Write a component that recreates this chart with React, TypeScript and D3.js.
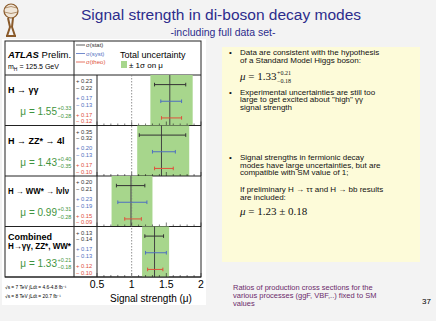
import React from 'react';
import * as d3 from 'd3';

// channel results
const labels1 = ['H → γγ', 'H → ZZ* → 4l', 'H → WW* → lνlν', 'Combined'];
const labels2 = ['', '', '', 'H→γγ, ZZ*, WW*'];
const mu = [1.55, 1.43, 0.99, 1.33];
const totUp = [0.33, 0.40, 0.31, 0.21];
const totDn = [0.28, 0.35, 0.28, 0.18];
const statUp = [0.23, 0.35, 0.20, 0.13];
const statDn = [0.22, 0.32, 0.21, 0.14];
const systUp = [0.17, 0.20, 0.23, 0.17];
const systDn = [0.13, 0.13, 0.19, 0.13];
const theoUp = [0.17, 0.17, 0.15, 0.12];
const theoDn = [0.12, 0.10, 0.09, 0.10];
const xTicks = [0.5, 1, 1.5, 2];

const SANS = '"Liberation Sans", Arial, sans-serif';
const SERIF = '"Liberation Serif", "Times New Roman", serif';
const BLACK = '#333';
const BLUE = '#4f6fc0';
const RED = '#e0503c';
const GREEN_TXT = '#3f9440';
const BAND = '#a7d68c';

const fmt = (v: number) => v.toFixed(2);

export default function App() {
  const x = d3.scaleLinear().domain([0.5, 2]).range([97, 201]);
  const rows = d3.scaleBand<number>().domain(d3.range(mu.length)).range([75, 277]);
  const bh = rows.bandwidth();
  const minor = d3.range(0.5, 2.0001, 0.1);

  const series = [
    { up: statUp, dn: statDn, color: BLACK, f: 0.19 },
    { up: systUp, dn: systDn, color: BLUE, f: 0.52 },
    { up: theoUp, dn: theoDn, color: RED, f: 0.85 },
  ];

  return (
    <svg width={436} height={321} style={{ position: 'absolute', left: 0, top: 0 }}>
      <rect width={436} height={321} fill="#f3f3f3" />
      {/* logo */}
      <g stroke="#8a5a2a" fill="none" strokeWidth={1.2}>
        <circle cx={11} cy={11} r={7} fill="#f0e6d8" />
        <path d="M5,8 Q11,5 17,8 M4,12 Q11,15 18,12" strokeWidth={0.6} />
        <path d="M8,18 L10,27 L7,36 M13,18 L12,27 L15,36 M6,36 L16,36" strokeWidth={2} />
      </g>
      {/* title */}
      <text x={221} y={20} textAnchor="middle" fontFamily={SANS} fontSize={15.5} fill="#2c2c8c">
        Signal strength in di-boson decay modes
      </text>
      <text x={223} y={36} textAnchor="middle" fontFamily={SANS} fontSize={10.5} fill="#2c2c8c">
        -including full data set-
      </text>

      {/* chart area */}
      <rect x={2} y={39} width={204} height={266} fill="#fff" />
      <rect x={5} y={41} width={196} height={236} fill="none" stroke="#222" strokeWidth={1} />
      <line x1={5} x2={201} y1={75} y2={75} stroke="#222" />
      <line x1={74} x2={74} y1={41} y2={277} stroke="#222" />
      <line x1={97} x2={97} y1={75} y2={277} stroke="#222" />

      <text x={8} y={58} fontFamily={SANS} fontSize={9.5} fill="#000">
        <tspan fontWeight="bold" fontStyle="italic">ATLAS</tspan> Prelim.
      </text>
      <text x={8} y={69} fontFamily={SANS} fontSize={7} fill="#000">
        m<tspan fontSize={5} dy={2}>H</tspan><tspan dy={-2}> = 125.5 GeV</tspan>
      </text>
      {['σ(stat)', 'σ(syst)', 'σ(theo)'].map((t, i) => (
        <g key={t}>
          <line x1={76} x2={85} y1={45 + i * 8.5} y2={45 + i * 8.5} stroke={series[i].color} strokeWidth={0.8} />
          <text x={86} y={47 + i * 8.5} fontFamily={SANS} fontSize={6} fill={series[i].color}>{t}</text>
        </g>
      ))}
      <text x={120} y={58} fontFamily={SANS} fontSize={9} fill="#000">Total uncertainty</text>
      <rect x={121} y={61} width={6} height={7} fill={BAND} />
      <text x={129} y={68} fontFamily={SANS} fontSize={8} fill="#000">± 1σ on μ</text>

      {mu.map((m, i) => {
        const top = rows(i)!;
        return (
          <g key={i}>
            <rect x={x(m - totDn[i])} y={top} width={x(m + totUp[i]) - x(m - totDn[i])} height={bh} fill={BAND} />
            <line x1={x(m)} x2={x(m)} y1={top} y2={top + bh} stroke="#444" strokeWidth={1} />
            {series.map((s, j) => {
              const yy = top + bh * s.f;
              const x0 = x(m - s.dn[i]);
              const x1 = x(m + s.up[i]);
              return (
                <g key={j} stroke={s.color} strokeWidth={1}>
                  <line x1={x0} x2={x1} y1={yy} y2={yy} />
                  <line x1={x0} x2={x0} y1={yy - 1.8} y2={yy + 1.8} />
                  <line x1={x1} x2={x1} y1={yy - 1.8} y2={yy + 1.8} />
                  <text x={76} y={yy - 1.3} fontFamily={SANS} fontSize={5.8} fill={s.color} stroke="none">
                    + {fmt(s.up[i])}
                  </text>
                  <text x={76} y={yy + 5.3} fontFamily={SANS} fontSize={5.8} fill={s.color} stroke="none">
                    − {fmt(s.dn[i])}
                  </text>
                </g>
              );
            })}
            {/* row labels */}
            {labels2[i] ? (
              <>
                <text x={8} y={top + 13.5} fontFamily={SANS} fontSize={9} fontWeight="bold">{labels1[i]}</text>
                <text x={8} y={top + 22} fontFamily={SANS} fontSize={8.5} fontWeight="bold" textLength={63} lengthAdjust="spacingAndGlyphs">{labels2[i]}</text>
              </>
            ) : (
              <text x={8} y={top + 18} fontFamily={SANS} fontSize={i === 2 ? 8.3 : 9} fontWeight="bold"
                textLength={i === 2 ? 61 : undefined} lengthAdjust="spacingAndGlyphs">{labels1[i]}</text>
            )}
            <text x={57} y={top + 40} textAnchor="end" fontFamily={SANS} fontSize={10} fill={GREEN_TXT}>
              μ = {fmt(m)}
            </text>
            <text x={57.5} y={top + 35} fontFamily={SANS} fontSize={5.5} fill={GREEN_TXT}>+{fmt(totUp[i])}</text>
            <text x={57.5} y={top + 42.5} fontFamily={SANS} fontSize={5.5} fill={GREEN_TXT}>−{fmt(totDn[i])}</text>
            {/* separator axis with ticks */}
            <line x1={97} x2={201} y1={top + bh} y2={top + bh} stroke="#222" />
            {minor.map((t, k) => (
              <line key={k} x1={x(t)} x2={x(t)} y1={top + bh} y2={top + bh - (k % 5 === 0 ? 4 : 2)} stroke="#222" strokeWidth={0.6} />
            ))}
            <line x1={5} x2={97} y1={top + bh} y2={top + bh} stroke="#222" />
          </g>
        );
      })}
      <line x1={x(1)} x2={x(1)} y1={75} y2={277} stroke="#777" strokeWidth={0.8} strokeDasharray="1.5,1.5" />

      {xTicks.map(t => (
        <text key={t} x={x(t)} y={288} textAnchor="middle" fontFamily={SANS} fontSize={10.5} fill="#000">
          {t}
        </text>
      ))}
      <text x={151} y={302} textAnchor="middle" fontFamily={SANS} fontSize={10} fill="#000">Signal strength (μ)</text>
      <text x={5} y={289} fontFamily={SANS} fontSize={4.8} fill="#000">√s = 7 TeV ∫Ldt = 4.6-4.8 fb⁻¹</text>
      <text x={5} y={298} fontFamily={SANS} fontSize={4.8} fill="#000">√s = 8 TeV ∫Ldt = 20.7 fb⁻¹</text>

      {/* right text panel */}
      <rect x={222} y={47} width={198} height={215} fill="#fdfbd9" />
      <g fontFamily={SANS} fontSize={8} fill="#111">
        <text x={229} y={55}>•</text>
        <text x={240} y={55}>Data are consistent with the hypothesis</text>
        <text x={240} y={62.5}>of a Standard Model Higgs boson:</text>
        <text x={229} y={94.5}>•</text>
        <text x={240} y={94.5}>Experimental uncertainties are still too</text>
        <text x={240} y={102}>large to get excited about "high" γγ</text>
        <text x={240} y={109.5}>signal strength</text>
        <text x={229} y={160}>•</text>
        <text x={240} y={160}>Signal strengths in fermionic decay</text>
        <text x={240} y={167.5}>modes have large uncertainties, but are</text>
        <text x={240} y={175}>compatible with SM value of 1;</text>
        <text x={240} y={192}>If preliminary H → ττ and H → bb results</text>
        <text x={240} y={199.5}>are included:</text>
      </g>
      <g fontFamily={SERIF} fill="#111">
        <text x={240} y={80} fontSize={11}>
          <tspan fontStyle="italic">μ</tspan> = 1.33
        </text>
        <text x={277} y={75} fontSize={6}>+0.21</text>
        <text x={277} y={83} fontSize={6}>−0.18</text>
        <text x={240} y={215} fontSize={11}>
          <tspan fontStyle="italic">μ</tspan> = 1.23 ± 0.18
        </text>
      </g>
      <g fontFamily={SANS} fontSize={7.5} fill="#6b2a6b">
        <text x={233} y={290}>Ratios of production cross sections for the</text>
        <text x={233} y={298}>various processes (ggF, VBF,..) fixed to SM</text>
        <text x={233} y={306}>values</text>
      </g>
      <text x={431} y={304} textAnchor="end" fontFamily={SANS} fontSize={8} fill="#000">37</text>
    </svg>
  );
}
